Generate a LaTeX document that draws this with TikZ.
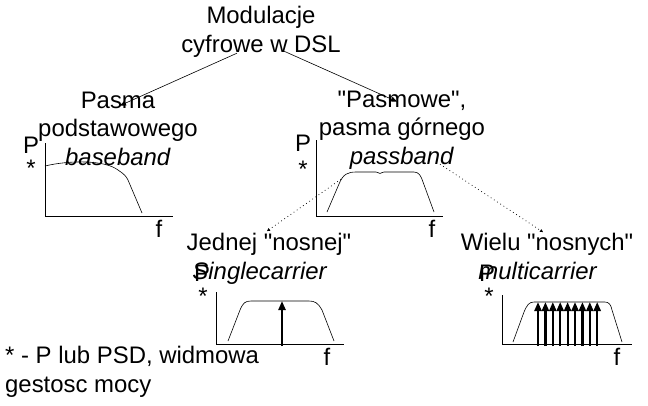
\documentclass[tikz,border=0pt]{standalone}
\usepackage{fontspec}
\setmainfont{Liberation Sans}
\usetikzlibrary{arrows.meta}
\newcommand{\guil}{\textquotedbl}
\begin{document}
\begin{tikzpicture}[x=1bp,y=-1bp]
\tikzset{etiq/.style={inner sep=0pt, align=center, font=\fontsize{24}{28.5}\selectfont},
  fleche/.style={-{Triangle[length=6bp,width=5bp]}, line width=0.6bp},
  pointille/.style={dash pattern=on 0.8bp off 3bp, line width=0.7bp, -{Triangle[length=3bp,width=3bp]}},
  axe/.style={line width=1bp},
  courbe/.style={line width=0.6bp},
  porteuse/.style={line width=2.2bp, -{Triangle[length=9bp,width=7bp]}}}
\useasboundingbox (0,0) rectangle (648,405);
\node[etiq, anchor=base] (titre) at (261,52) {Modulacje\\cyfrowe w DSL};
\node[etiq, anchor=base] (bande) at (118,165) {Pasma\\podstawowego\\\textit{baseband}};
\node[etiq, anchor=base] (passe) at (402,164) {\guil Pasmowe\guil,\\pasma górnego\\\textit{passband}};
\node[etiq, anchor=base] (une) at (269,279) {Jednej \guil nosnej\guil\\\textit{Singlecarrier}\hspace*{18bp}};
\node[etiq, anchor=base] (multi) at (547,279) {Wielu \guil nosnych\guil\\\textit{multicarrier}\hspace*{18bp}};
\node[etiq, anchor=base west, align=left] (note) at (5,392) {* - P lub PSD, widmowa\\gestosc mocy};
\draw[fleche] ([xshift=-24bp,yshift=4bp]titre.south) -- ([xshift=2bp,yshift=-14bp]bande.north);
\draw[fleche] ([xshift=23bp,yshift=6bp]titre.south) -- ([xshift=-5bp,yshift=-11bp]passe.north);
\draw[pointille] ([xshift=-61bp,yshift=-10bp]passe.south) -- ([xshift=-2bp,yshift=2bp]une.north);
\draw[pointille] ([xshift=38bp,yshift=5bp]passe.south) -- ([xshift=-4bp,yshift=1bp]multi.north);
% baseband
\node[etiq] (p1) at (31,145) {P};
\node[etiq] (e1) at (31,168) {*};
\node[etiq] (f1) at (159,229) {f};
\draw[axe] (45,143) -- (45,216) -- (173,216);
\draw[courbe] (45,166) .. controls (70,160) and (105,160) .. (118,170) .. controls (124,174) and (126,176) .. (128,180) -- (142,213);
% passband
\node[etiq] (p2) at (303,143) {P};
\node[etiq] (e2) at (303,169) {*};
\node[etiq] (f2) at (432,229) {f};
\draw[axe] (316,140) -- (316,216) -- (443,216);
\draw[courbe] (327,212) -- (339,184) .. controls (343,174) and (348,172) .. (356,172)
  -- (376,172) .. controls (378,172) and (379,173.5) .. (380,173.5) .. controls (381,173.5) and (382,172) .. (384,172)
  -- (414,172) .. controls (419,172) and (421,176) .. (423,182) -- (434,212);
% singlecarrier
\node[etiq] (p3) at (202,273) {P};
\node[etiq] (e3) at (203,296) {*};
\node[etiq] (f3) at (327,357) {f};
\draw[axe] (216,292) -- (216,344) -- (344,344);
\draw[courbe] (228,341) -- (240,310) .. controls (243,303) and (245,301) .. (251,301)
  -- (309,301) .. controls (315,301) and (318,303) .. (322,310) -- (334,341);
\draw[porteuse] (282,346) -- (282,301);
% multicarrier
\node[etiq] (p4) at (487,273) {P};
\node[etiq] (e4) at (489,296) {*};
\node[etiq] (f4) at (617,357) {f};
\draw[axe] (502,295) -- (502,344) -- (632,344);
\draw[courbe] (513,342) -- (524,312) .. controls (527,305) and (529,302) .. (534,302)
  -- (605,302) .. controls (609,302) and (611,305) .. (612,310) -- (622,342);
\foreach \i in {0,...,8}
  \draw[porteuse] (538+\i*7.4,346) -- (538+\i*7.4,302);
\end{tikzpicture}
\end{document}
